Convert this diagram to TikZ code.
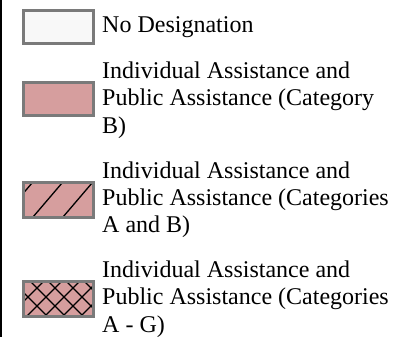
\documentclass[tikz,border=0pt]{standalone}
\usepackage{fontspec}
\setmainfont{Liberation Serif}
\definecolor{pinkfill}{HTML}{D69E9E}
\definecolor{boxgray}{HTML}{7A7A7A}
\definecolor{offwhite}{HTML}{F8F8F8}
\begin{document}
\begin{tikzpicture}[x=1pt,y=-1pt,
  legbox/.style={draw=boxgray,line width=3pt,minimum width=70pt,inner sep=0pt,anchor=north west},
  hatchline/.style={black,line width=1.3pt},
  lbl/.style={anchor=base west,inner sep=0pt,font=\fontsize{24}{27.5}\selectfont}]
\useasboundingbox (0,0) rectangle (410,337);
\coordinate (ltop) at (1,0);
\coordinate (lbot) at (1,337);
\draw[black,line width=2pt] (ltop) -- (lbot);
% box 1
\node[legbox,fill=offwhite,minimum height=33pt] (b1) at (22,9) {};
% box 2
\node[legbox,fill=pinkfill,minimum height=33pt] (b2) at (22,81) {};
% box 3
\fill[pinkfill] (22,181) rectangle (92,216);
\begin{scope}
\clip (22,181) rectangle (92,216);
\foreach \s in {-27,3,33,63,93} {\draw[hatchline] (\s,217) -- (\s+31.6,180);}
\end{scope}
\node[legbox,minimum height=35pt] (b3) at (22,181) {};
% box 4
\fill[pinkfill] (22,280) rectangle (92,315);
\begin{scope}
\clip (22,280) rectangle (92,315);
\foreach \c in {271,289,...,433} {\draw[hatchline] (\c-279,279) -- (\c-316,316);}
\foreach \c in {-269,-251,...,-53} {\draw[hatchline] (\c+279,279) -- (\c+316,316);}
\end{scope}
\node[legbox,minimum height=35pt] (b4) at (22,280) {};
% labels
\node[lbl] (t1) at (102,33) {No Designation};
\node[lbl] (t2a) at (102,79) {Individual Assistance and};
\node[lbl] (t2b) at (102,106) {Public Assistance (Category};
\node[lbl] (t2c) at (102,133) {B)};
\node[lbl] (t3a) at (102,178) {Individual Assistance and};
\node[lbl] (t3b) at (102,205) {Public Assistance (Categories};
\node[lbl] (t3c) at (102,232) {A and B)};
\node[lbl] (t4a) at (102,277) {Individual Assistance and};
\node[lbl] (t4b) at (102,304.5) {Public Assistance (Categories};
\node[lbl] (t4c) at (102,332) {A - G)};
\end{tikzpicture}
\end{document}
